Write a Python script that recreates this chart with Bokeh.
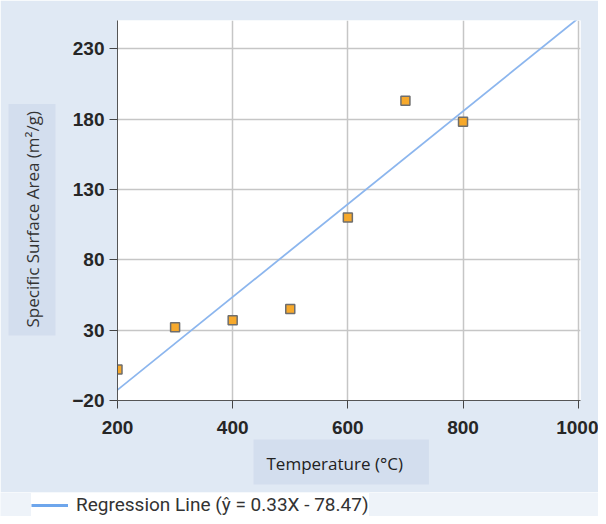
from bokeh.plotting import figure
from bokeh.layouts import column, row
from bokeh.models import Range1d, FixedTicker, Title, Legend, LegendItem, ColumnDataSource
from bokeh.embed import file_html
from bokeh.resources import INLINE

temperature = [200, 300, 400, 500, 600, 700, 800]
surface_area = [2, 32, 37, 45, 110, 193, 178]
slope = 0.33
intercept = -78.47
line_x = [200, 1000]
x_ticks = [200, 400, 600, 800, 1000]
y_ticks = [-20, 30, 80, 130, 180, 230]
legend_text = "Regression Line (\u0177 = 0.33X - 78.47)"
x_title = "Temperature (\u00b0C)"
y_title = "Specific Surface Area (m\u00b2/g)"

line_y = [slope * x + intercept for x in line_x]
BG = "#e0e9f4"
BG2 = "#eef3f9"
LINE_COLOR = "#8cb6ee"

p = figure(width=598, height=492, output_backend="svg", toolbar_location=None,
           x_range=Range1d(200, 1004), y_range=Range1d(-20, 250),
           min_border_left=117, min_border_right=18, min_border_top=20, min_border_bottom=92)

p.background_fill_color = "white"
p.border_fill_color = BG
p.outline_line_color = None

for ax in (p.xaxis[0], p.yaxis[0]):
    ax.major_label_text_font = "Liberation Sans"
    ax.major_label_text_font_style = "bold"
    ax.major_label_text_font_size = "19px"
    ax.major_label_text_color = "#262626"
    ax.axis_line_color = "#555555"
    ax.major_tick_line_color = "#444444"
    ax.minor_tick_line_color = None
    ax.major_tick_out = 8
    ax.major_tick_in = 0

p.xaxis.ticker = FixedTicker(ticks=x_ticks)
p.yaxis.ticker = FixedTicker(ticks=y_ticks)
p.yaxis.major_label_standoff = 5
p.xaxis.major_label_standoff = 12

p.grid.grid_line_color = "#c6c6c6"
p.grid.grid_line_width = 1.5
p.xgrid.ticker = FixedTicker(ticks=x_ticks)
p.ygrid.ticker = FixedTicker(ticks=y_ticks)

p.line(line_x, line_y, line_color=LINE_COLOR, line_width=1.8)
src = ColumnDataSource(dict(x=temperature, y=surface_area))
p.scatter("x", "y", source=src, marker="square", size=9, fill_color="#f7a92b",
          line_color="#6e6e6e", line_width=1.5)

yt = Title(text=y_title, align="left", offset=65, text_font="Open Sans", text_font_size="17px",
           text_font_style="normal", text_color="#333333",
           background_fill_color="#d3deee", padding=dict(left=8, right=7, top=12, bottom=12),
           standoff=28)
p.add_layout(yt, "left")

xt = Title(text=x_title, align="left", offset=136, text_font="Open Sans", text_font_size="17px",
           text_font_style="normal", text_color="#222222",
           background_fill_color="#d3deee",
           padding=dict(left=13, right=26, top=12, bottom=10), standoff=2)
p.add_layout(xt, "below")

# legend strip
q = figure(width=598, height=24, output_backend="svg", toolbar_location=None,
           x_range=Range1d(0, 1), y_range=Range1d(0, 1),
           min_border_left=0, min_border_right=0, min_border_top=0, min_border_bottom=0)
q.axis.visible = False
q.grid.visible = False
q.outline_line_color = None
q.background_fill_color = BG2
q.border_fill_color = BG2
r_leg = q.line([2, 3], [2, 3], line_color="#6ea6ec", line_width=3)

legend = Legend(items=[LegendItem(label=legend_text, renderers=[r_leg])],
                location=(31, 0), orientation="horizontal",
                label_text_font="Roboto", label_text_font_size="19px",
                label_text_color="#333333", background_fill_color="white",
                background_fill_alpha=1, border_line_color=None, glyph_width=37,
                padding=2, margin=0, label_standoff=8, spacing=0,
                label_height=20, glyph_height=20)
q.add_layout(legend)

open("out.html", "w").write(file_html(column(p, row(q), spacing=0), INLINE))
